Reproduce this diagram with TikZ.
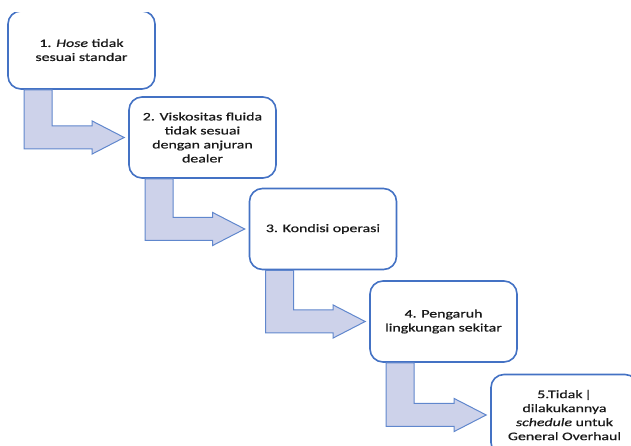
\documentclass[tikz,border=0pt]{standalone}
\usepackage{fontspec}
\setmainfont[FakeStretch=1.38, FakeBold=0.7]{Carlito}
\usetikzlibrary{calc}
\definecolor{boxblue}{RGB}{68,114,196}
\definecolor{arrowfill}{RGB}{205,210,234}
\tikzset{
	stepbox/.style={draw=boxblue, line width=1.6pt, fill=white,
		rounded corners=13pt, minimum width=147pt, minimum height=81pt,
		align=center, text=black!90, font=\fontsize{11.5}{14}\selectfont},
	flowarrow/.style={draw=boxblue!85, line width=1pt, fill=arrowfill}
}
% bent arrow from the foot of one box to the side of the next
\newcommand{\stepArrow}[2]{
	\coordinate (base) at ([xshift=17pt]#1.south west);
	\coordinate (tip) at ([xshift=-4pt]#2.west);
	\draw [flowarrow] (base) -- ++(28,0) 
	|- ($(tip)+(-32,11.5)$) -- ++(0,5) -- (tip) 
	-- ++(-32,-16.5) -- ++(0,5) -| (base) -- cycle;
}

\begin{document}
\begin{tikzpicture}[x=1pt, y=1pt]
	\useasboundingbox (0,0) rectangle (631,446);
	\begin{scope}
	\clip (0,0) rectangle (631,433.5);
	\node [stepbox, minimum height=78pt] (b1) at (81.5,396) 
	{1. \textit{Hose} tidak\\sesuai standar};
	\node [stepbox] (b2) at (202.5,308.5) 
	{2. Viskositas fluida\\tidak sesuai\\dengan anjuran\\dealer};
	\node [stepbox] (b3) at (323,217) 
	{3. Kondisi operasi};
	\node [stepbox] (b4) at (443.5,124.5) 
	{4. Pengaruh\\lingkungan sekitar};
	\node [stepbox] (b5) at (564.5,31) 
	{5.Tidak\,|\\dilakukannya\\\textit{schedule} untuk\\General Overhaul};
	\stepArrow{b1}{b2}
	\stepArrow{b2}{b3}
	\stepArrow{b3}{b4}
	\stepArrow{b4}{b5}
	\end{scope}
\end{tikzpicture}
\end{document}
